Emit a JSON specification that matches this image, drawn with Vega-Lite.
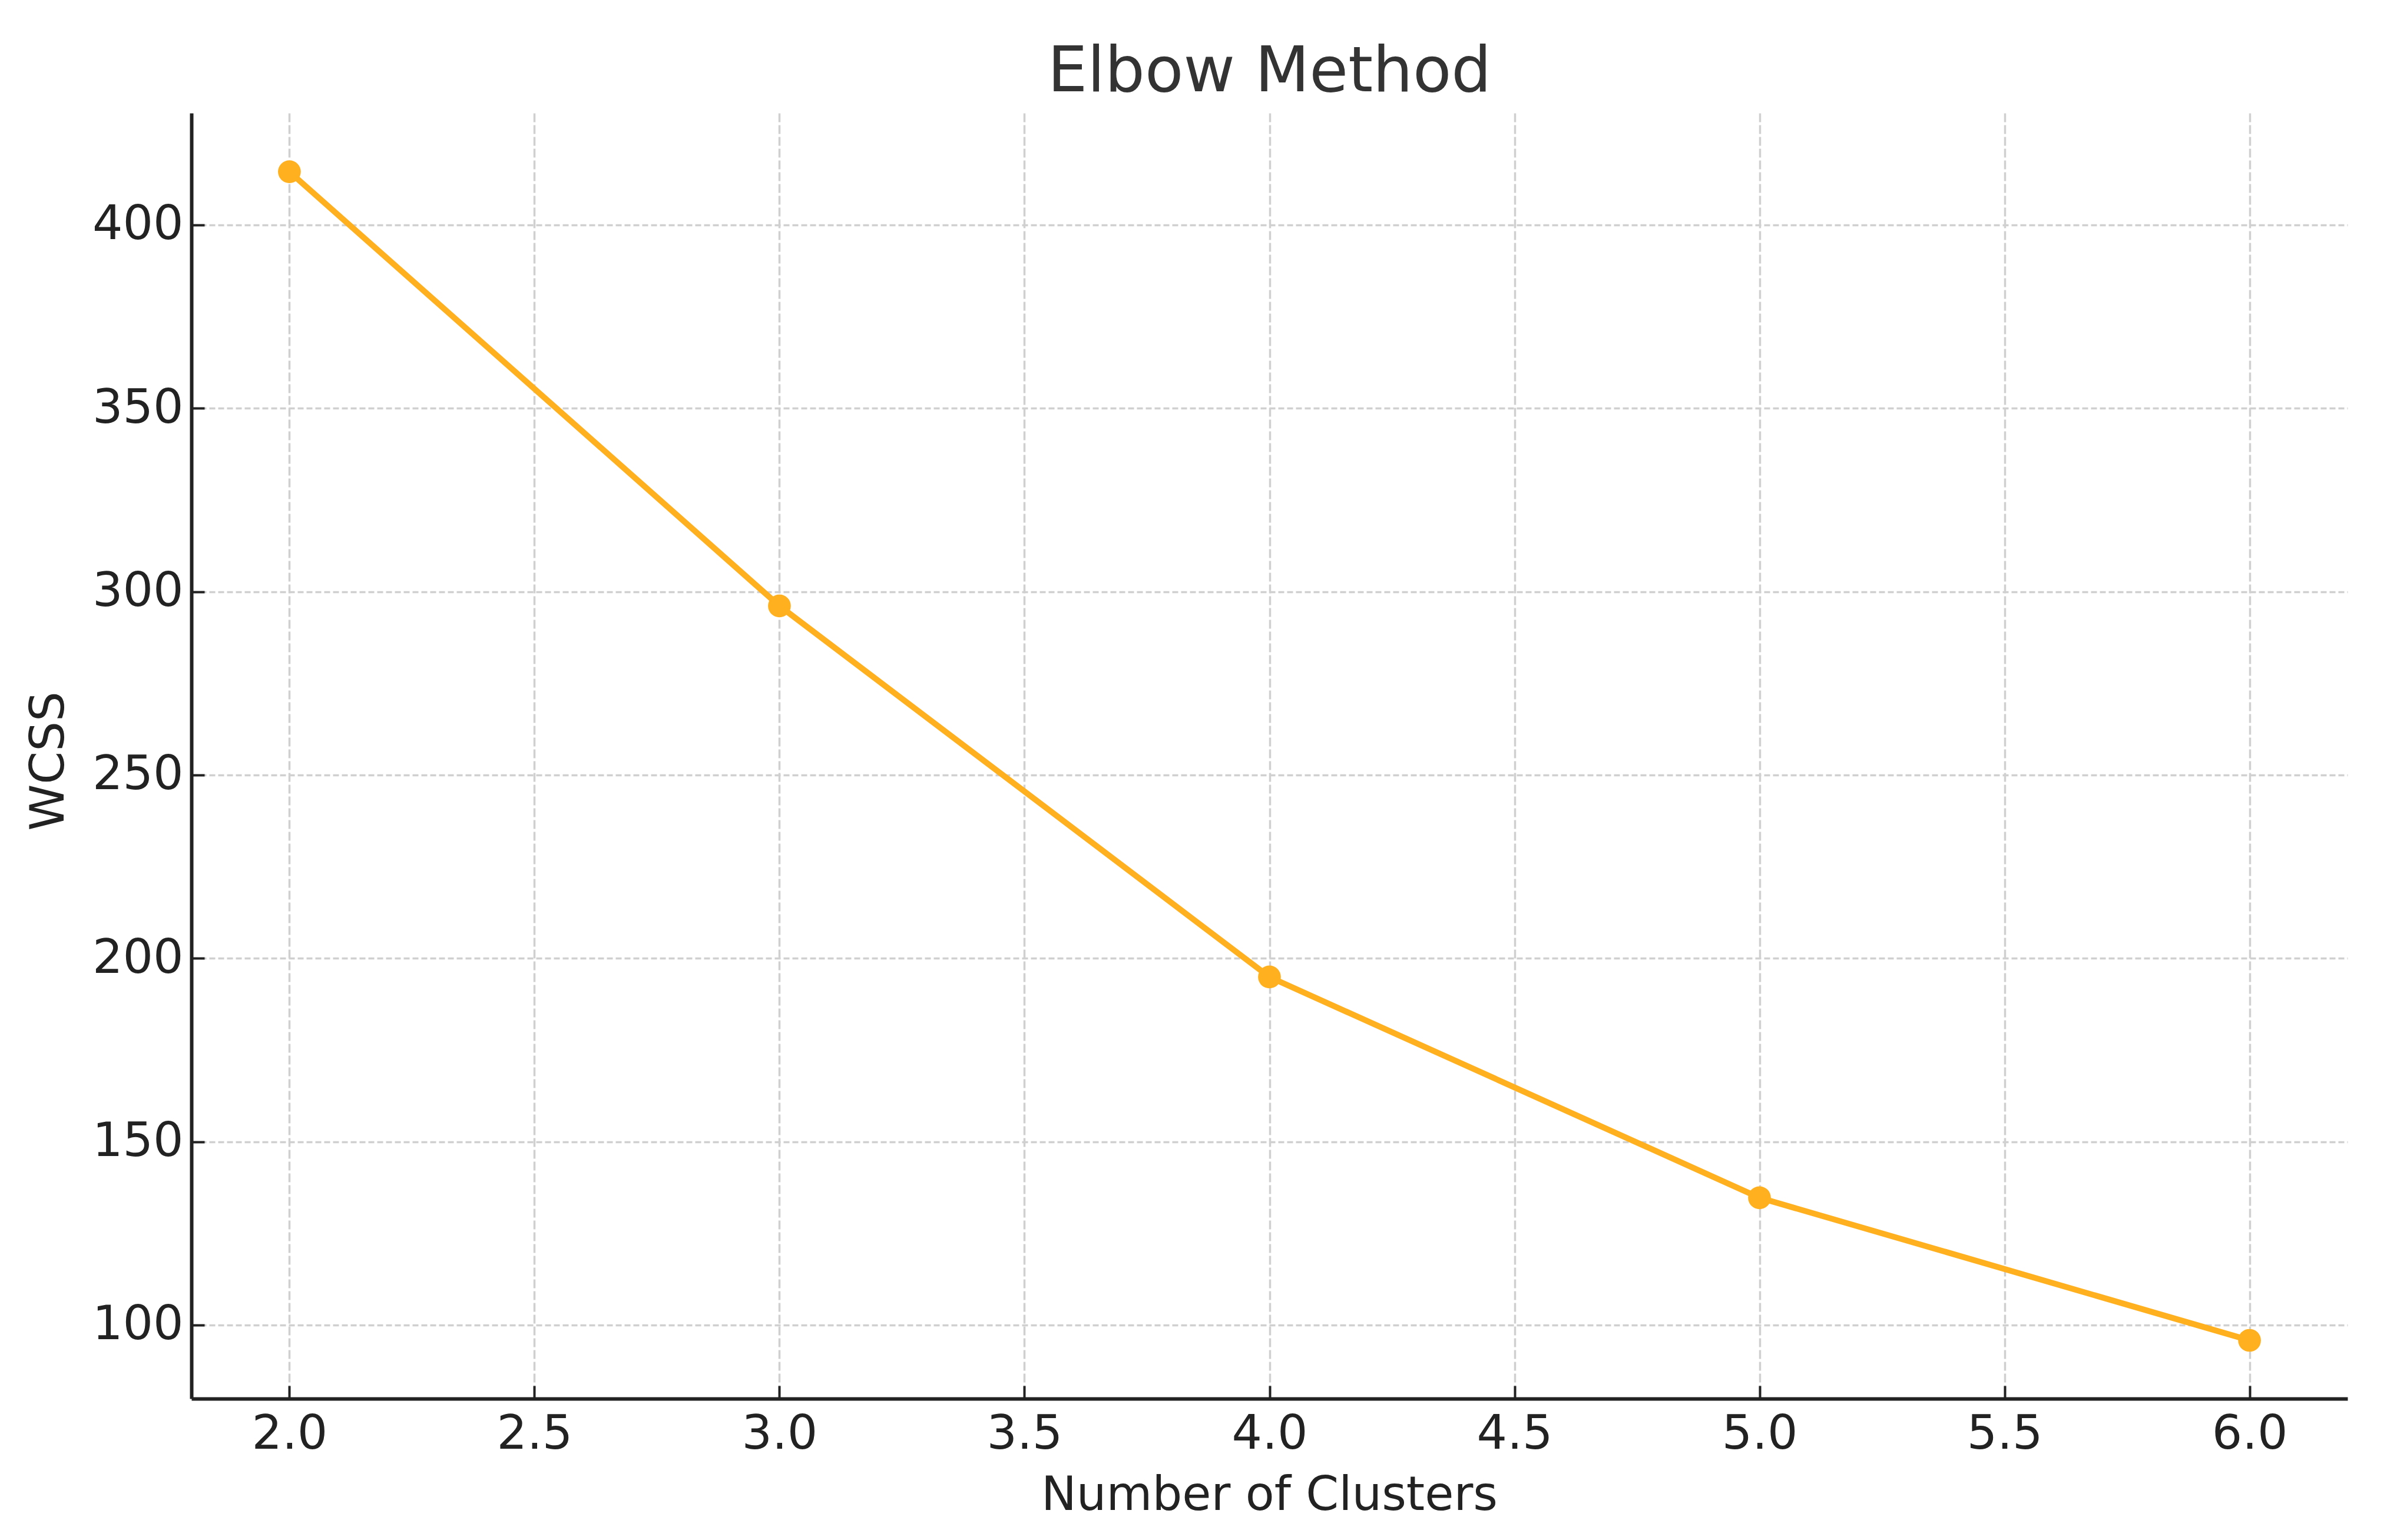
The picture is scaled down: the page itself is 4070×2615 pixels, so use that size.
{
  "$schema": "https://vega.github.io/schema/vega-lite/v6.json",
  "width": 3661,
  "height": 2183,
  "autosize": {"type": "none"},
  "padding": {"left": 325, "top": 192, "right": 84, "bottom": 240},
  "background": "white",
  "title": {
    "text": "Elbow Method",
    "font": "DejaVu Sans",
    "fontSize": 107,
    "fontWeight": "normal",
    "color": "#333333",
    "anchor": "middle",
    "baseline": "alphabetic",
    "offset": 35,
    "dy": 105
  },
  "config": {"view": {"stroke": null}},
  "data": {
    "values": [
      {"clusters": 2, "wcss": 414.5},
      {"clusters": 3, "wcss": 296.1},
      {"clusters": 4, "wcss": 194.9},
      {"clusters": 5, "wcss": 134.7},
      {"clusters": 6, "wcss": 95.8}
    ]
  },
  "encoding": {
    "x": {
      "field": "clusters",
      "type": "quantitative",
      "scale": {"domain": [1.8, 6.2], "nice": false, "zero": false},
      "axis": {
        "values": [2, 2.5, 3, 3.5, 4, 4.5, 5, 5.5, 6],
        "format": ".1f",
        "labelFont": "DejaVu Sans",
        "labelFontSize": 81,
        "labelColor": "#222222",
        "labelBaseline": "alphabetic",
        "labelPadding": 106,
        "labelFlush": false,
        "labelOverlap": false,
        "tickSize": -22,
        "tickWidth": 4,
        "tickColor": "#222222",
        "domainColor": "#222222",
        "domainWidth": 6,
        "grid": true,
        "gridColor": "#d0d0d0",
        "gridDash": [15, 5],
        "gridWidth": 3.5,
        "title": "Number of Clusters",
        "titleFont": "DejaVu Sans",
        "titleFontSize": 80,
        "titleFontWeight": "normal",
        "titleColor": "#222222",
        "titleX": 1830,
        "titleY": 188,
        "titleBaseline": "alphabetic",
        "titleAlign": "center"
      }
    },
    "y": {
      "field": "wcss",
      "type": "quantitative",
      "scale": {"domain": [79.9, 430.5], "nice": false, "zero": false},
      "axis": {
        "values": [100, 150, 200, 250, 300, 350, 400],
        "labelFont": "DejaVu Sans",
        "labelFontSize": 81,
        "labelColor": "#222222",
        "labelAlign": "right",
        "labelBaseline": "middle",
        "labelPadding": 36,
        "labelFlush": false,
        "labelOverlap": false,
        "tickSize": -22,
        "tickWidth": 4,
        "tickColor": "#222222",
        "domainColor": "#222222",
        "domainWidth": 6,
        "grid": true,
        "gridColor": "#d0d0d0",
        "gridDash": [10, 5],
        "gridWidth": 3.5,
        "title": "WCSS",
        "titleFont": "DejaVu Sans",
        "titleFontSize": 80,
        "titleFontWeight": "normal",
        "titleColor": "#222222",
        "titleAngle": -90,
        "titleX": -218,
        "titleY": 1100,
        "titleBaseline": "alphabetic",
        "titleAlign": "center"
      }
    }
  },
  "layer": [
    {"mark": {"type": "line", "color": "#FFB01F", "strokeWidth": 10}},
    {"mark": {"type": "point", "filled": true, "shape": "circle", "size": 1500, "color": "#FFB01F", "opacity": 1}}
  ]
}
